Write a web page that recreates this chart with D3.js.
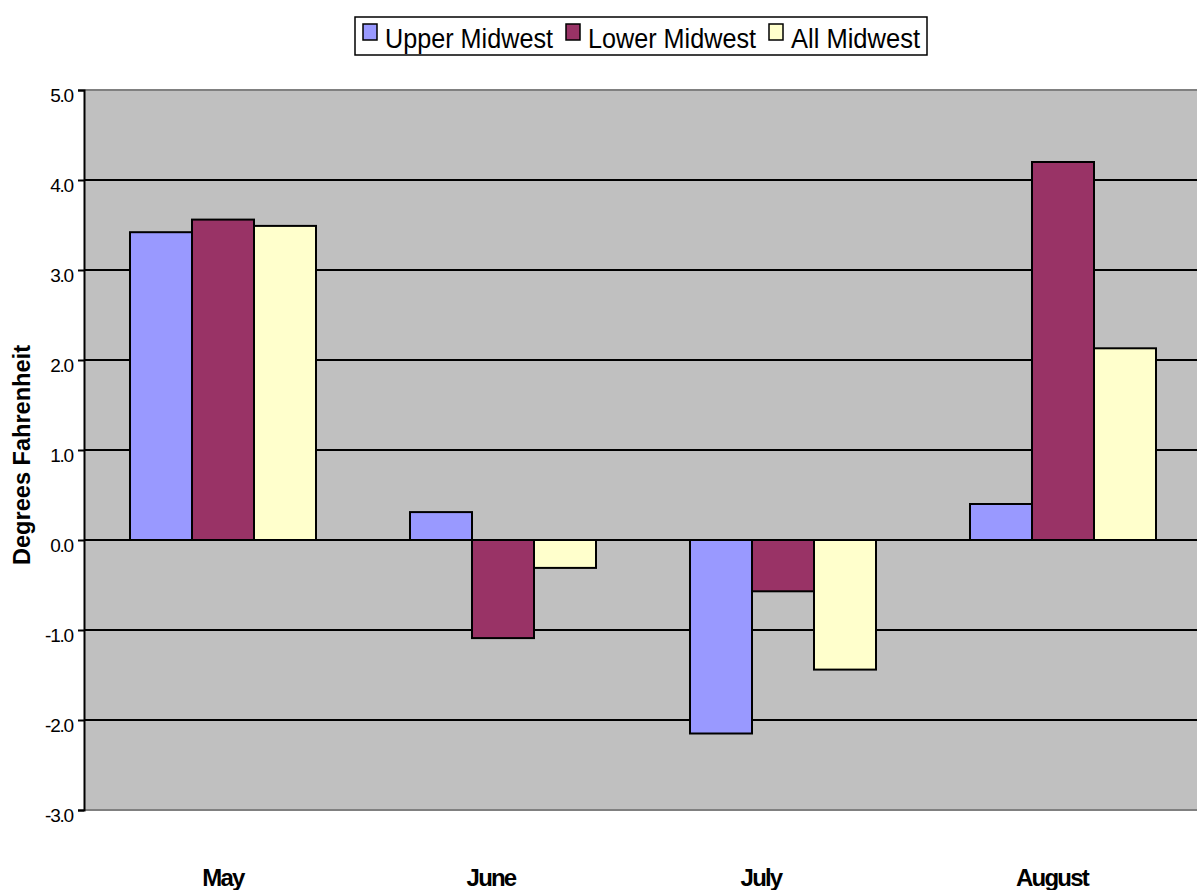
<!DOCTYPE html>
<html lang="en">
<head>
<meta charset="UTF-8">
<title>Midwest Temperature Departures</title>
<script src="https://d3js.org/d3.v7.min.js"></script>
<style>
  body { margin: 0; background: #fff; }
  svg { display: block; font-family: "Liberation Sans", Arial, sans-serif; }
</style>
</head>
<body>
<svg id="chart" width="1197" height="890"></svg>
<script>
// data
const months = ["May", "June", "July", "August"];
const seriesNames = ["Upper Midwest", "Lower Midwest", "All Midwest"];
const seriesColors = ["#9999FF", "#993366", "#FFFFCC"];
const upperMidwest = [3.42, 0.31, -2.15, 0.40];
const lowerMidwest = [3.56, -1.09, -0.57, 4.20];
const allMidwest = [3.49, -0.31, -1.44, 2.13];
const yTicks = [5, 4, 3, 2, 1, 0, -1, -2, -3];

const seriesValues = [upperMidwest, lowerMidwest, allMidwest];

const svg = d3.select("#chart");
const plot = { left: 84, top: 90, bottom: 810, right: 1204 };
// category labels sit a bit left of the band centres in the original
const labelNudge = [0, -12, -22, -11];

const x = d3.scaleBand()
    .domain(months)
    .range([plot.left - 1, plot.right - 1])
    .paddingInner(0.3357)
    .paddingOuter(0.3357 / 2);

const xs = d3.scaleBand()
    .domain(seriesNames)
    .range([0, x.bandwidth()]);

const y = d3.scaleLinear()
    .domain([-3, 5])
    .range([plot.bottom, plot.top]);

// plot background
svg.append("rect")
    .attr("x", plot.left)
    .attr("y", plot.top)
    .attr("width", plot.right - plot.left)
    .attr("height", plot.bottom - plot.top)
    .attr("fill", "#C0C0C0");

// border lines top/bottom (gray)
svg.append("g").selectAll("line")
    .data([5, -3])
    .join("line")
    .attr("x1", plot.left).attr("x2", plot.right)
    .attr("y1", d => y(d)).attr("y2", d => y(d))
    .attr("stroke", "#808080").attr("stroke-width", 2);

// grid lines
svg.append("g").selectAll("line")
    .data(yTicks.filter(d => d !== 5 && d !== -3))
    .join("line")
    .attr("x1", plot.left).attr("x2", plot.right)
    .attr("y1", d => y(d)).attr("y2", d => y(d))
    .attr("stroke", "#000").attr("stroke-width", 2);

// bars
const groups = svg.append("g").selectAll("g")
    .data(months)
    .join("g")
    .attr("transform", d => `translate(${x(d)},0)`);

groups.selectAll("rect")
    .data((m, i) => seriesNames.map((s, j) => ({ s, j, v: seriesValues[j][i] })))
    .join("rect")
    .attr("x", d => xs(d.s))
    .attr("width", xs.bandwidth())
    .attr("y", d => y(Math.max(0, d.v)))
    .attr("height", d => Math.abs(y(d.v) - y(0)))
    .attr("fill", d => seriesColors[d.j])
    .attr("stroke", "#000")
    .attr("stroke-width", 2);

// y axis
const fmt = d => d.toFixed(1);
const yAxis = svg.append("g")
    .attr("transform", `translate(${plot.left},0)`)
    .call(d3.axisLeft(y).tickValues(yTicks).tickFormat(fmt).tickSize(6).tickPadding(5));
yAxis.select(".domain").attr("stroke-width", 2);
yAxis.selectAll(".tick line").attr("stroke-width", 2);
yAxis.selectAll(".tick text")
    .attr("font-size", 19)
    .attr("letter-spacing", -1.2)
    .attr("dy", "0.58em")
    .attr("fill", "#000")
    .attr("font-family", "Liberation Sans, Arial, sans-serif");

// category labels
svg.append("g").selectAll("text")
    .data(months)
    .join("text")
    .attr("x", (d, i) => x(d) + x.bandwidth() / 2 + labelNudge[i])
    .attr("y", 886)
    .attr("text-anchor", "middle")
    .attr("font-size", 24)
    .attr("font-weight", "bold")
    .attr("letter-spacing", -1.8)
    .text(d => d);

// y axis title
svg.append("text")
    .attr("transform", "translate(30,455) rotate(-90)")
    .attr("text-anchor", "middle")
    .attr("font-size", 23)
    .attr("font-weight", "bold")
    .attr("textLength", 220)
    .attr("lengthAdjust", "spacingAndGlyphs")
    .text("Degrees Fahrenheit");

// legend
const legend = svg.append("g");
legend.append("rect")
    .attr("x", 355).attr("y", 17)
    .attr("width", 572).attr("height", 38)
    .attr("fill", "#fff")
    .attr("stroke", "#000")
    .attr("stroke-width", 1.5);

const legendX = [363, 566, 769];
const legendTextLen = [168, 168, 129];
const legendItems = legend.selectAll("g")
    .data(seriesNames)
    .join("g")
    .attr("transform", (d, i) => `translate(${legendX[i]},0)`);

legendItems.append("rect")
    .attr("x", 0).attr("y", 24)
    .attr("width", 14).attr("height", 16)
    .attr("fill", (d, i) => seriesColors[i])
    .attr("stroke", "#000")
    .attr("stroke-width", 1.5);

legendItems.append("text")
    .attr("x", 22)
    .attr("y", 48)
    .attr("font-size", 27)
    .attr("textLength", (d, i) => legendTextLen[i])
    .attr("lengthAdjust", "spacingAndGlyphs")
    .text(d => d);
</script>
</body>
</html>
